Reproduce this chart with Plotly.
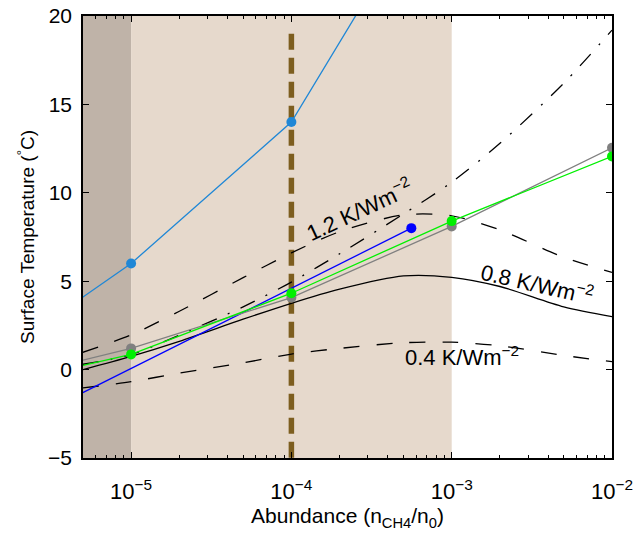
import plotly.graph_objects as go

# ---- data ----
x_curve = [5e-6, 1e-5, 2e-5, 5e-5, 1e-4, 2e-4, 5e-4, 1e-3, 2e-3, 5e-3, 1e-2]
y_04 = [-1.04, -0.68, -0.2, 0.38, 0.88, 1.2, 1.52, 1.55, 1.35, 0.8, 0.45]
y_08 = [0.0, 0.75, 1.6, 2.85, 3.75, 4.55, 5.3, 5.22, 4.7, 3.55, 3.0]
y_12 = [0.98, 1.96, 3.3, 5.2, 6.6, 7.8, 8.75, 8.7, 7.9, 6.35, 5.5]
y_dashdot = [0.3, 0.85, 1.95, 3.55, 4.95, 6.55, 8.8, 10.6, 12.8, 16.2, 19.2]

x_model = [1e-6, 1e-5, 1e-4, 1e-3, 1e-2]
y_gray = [-1.0, 1.2, 4.07, 8.1, 12.55]
y_green = [-1.2, 0.86, 4.32, 8.4, 12.06]

x_lightblue = [1e-6, 1e-5, 1e-4, 1e-3]
y_lightblue = [-0.3, 6.0, 14.0, 29.0]

x_blue = [5e-6, 5.6e-4]
y_blue = [-1.3, 8.0]

x_dark_region = [1e-6, 1e-5]
x_light_region = [1e-5, 1e-3]
y_region = [-5, 20]

x_vline = [1e-4, 1e-4]
y_vline = [19, -5]

x_major_ticks = [1e-5, 1e-4, 1e-3, 1e-2]
x_tick_text = ["10<sup>−5</sup>", "10<sup>−4</sup>", "10<sup>−3</sup>", "10<sup>−2</sup>"]
x_minor_ticks = [m * 10.0 ** e for e in range(-6, -2) for m in range(2, 10)]

labels = ["1.2 K/Wm<sup>−2</sup>", "0.8 K/Wm<sup>−2</sup>", "0.4 K/Wm<sup>−2</sup>"]

FONT = "Liberation Sans, Arial, Helvetica, sans-serif"

fig = go.Figure()

def region(xr, color):
    fig.add_trace(go.Scatter(
        x=[xr[0], xr[1], xr[1], xr[0], xr[0]],
        y=[y_region[0], y_region[0], y_region[1], y_region[1], y_region[0]],
        fill="toself", fillcolor=color, mode="lines",
        line=dict(width=0, color=color), hoverinfo="skip", showlegend=False))

region(x_dark_region, "#bfb3a8")
region(x_light_region, "#e6d9cc")

fig.add_trace(go.Scatter(x=x_vline, y=y_vline, mode="lines",
                         line=dict(color="#7d5e1f", width=5.5, dash="16px,8px"),
                         showlegend=False))

for yv, dash in [(y_04, "16px,17px"), (y_08, "solid"), (y_12, "16px,17px"),
                 (y_dashdot, "16px,12px,2px,12px")]:
    fig.add_trace(go.Scatter(x=x_curve, y=yv, mode="lines",
                             line=dict(color="black", width=1.3, dash=dash, shape="spline", smoothing=0.8),
                             showlegend=False))

fig.add_trace(go.Scatter(x=x_lightblue, y=y_lightblue, mode="lines+markers",
                         line=dict(color="#1f87d6", width=1.3),
                         marker=dict(size=10, color="#1f87d6"), showlegend=False))
fig.add_trace(go.Scatter(x=x_blue, y=y_blue, mode="lines+markers",
                         line=dict(color="#0000ff", width=1.3),
                         marker=dict(size=10, color="#0000ff", opacity=[0, 1]), showlegend=False))
fig.add_trace(go.Scatter(x=x_model, y=y_gray, mode="lines+markers",
                         line=dict(color="#808080", width=1.3),
                         marker=dict(size=10, color="#808080"), showlegend=False))
fig.add_trace(go.Scatter(x=x_model, y=y_green, mode="lines+markers",
                         line=dict(color="#00f000", width=1.3),
                         marker=dict(size=10, color="#00f000"), showlegend=False))

ann_pos = [(0.522, 0.563, -25), (0.858, 0.395, 13), (0.716, 0.231, 0)]
for t, (px, py, ang) in zip(labels, ann_pos):
    fig.add_annotation(text=t, xref="paper", yref="paper", x=px, y=py,
                       showarrow=False, textangle=ang,
                       font=dict(size=22, color="black", family=FONT),
                       xanchor="center", yanchor="middle")

fig.update_layout(
    width=636, height=534,
    margin=dict(l=83, r=24, t=16, b=76, autoexpand=False),
    paper_bgcolor="white", plot_bgcolor="white",
    font=dict(family=FONT, size=21, color="black"),
    xaxis=dict(type="log", range=[-5.3, -1.99999], tickmode="array",
               tickvals=x_major_ticks, ticktext=x_tick_text, automargin=False,
               showgrid=False, zeroline=False,
               showline=True, linecolor="black", linewidth=1.5, mirror="allticks",
               ticks="inside", ticklen=6, tickcolor="black", ticklabelstandoff=13,
               tickfont=dict(size=22),
               minor=dict(ticks="inside", ticklen=3.5, tickcolor="black",
                          tickvals=x_minor_ticks, showgrid=False),
               title=dict(text="Abundance (n<sub>CH4</sub>/n<sub>0</sub>)", font=dict(size=21), standoff=5)),
    yaxis=dict(range=[-5, 20], tickmode="linear", tick0=0, dtick=5, automargin=False,
               showgrid=False, zeroline=False,
               showline=True, linecolor="black", linewidth=1.5, mirror="allticks",
               ticks="inside", ticklen=6, tickcolor="black", ticklabelstandoff=5,
               tickfont=dict(size=21),
               title=dict(text="Surface Temperature (<sup>°</sup>C)", font=dict(size=19), standoff=8)),
)

fig.write_html("out.html")
